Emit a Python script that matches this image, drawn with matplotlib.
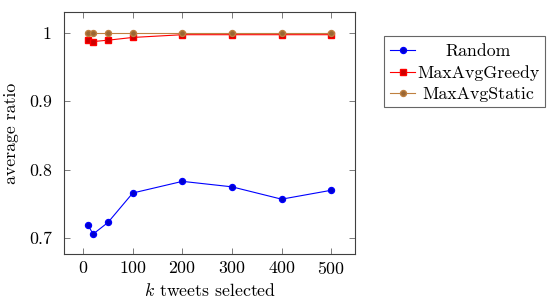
import matplotlib
matplotlib.use("Agg")
import matplotlib.pyplot as plt
from matplotlib.lines import Line2D
from matplotlib.patches import Rectangle

# data
k = [10, 20, 50, 100, 200, 300, 400, 500]
random_avg = [0.719, 0.706, 0.723, 0.766, 0.783, 0.775, 0.757, 0.770]
greedy_avg = [0.990, 0.987, 0.989, 0.993, 0.997, 0.997, 0.997, 0.997]
static_avg = [1.0, 1.0, 1.0, 1.0, 1.0, 1.0, 1.0, 1.0]
xticks = [0, 100, 200, 300, 400, 500]
yticks = [0.7, 0.8, 0.9, 1.0]
yticklabels = ["0.7", "0.8", "0.9", "1"]
names = ["Random", "MaxAvgGreedy", "MaxAvgStatic"]

plt.rcParams["font.family"] = "cmr10"
plt.rcParams["mathtext.fontset"] = "cm"
plt.rcParams["axes.formatter.use_mathtext"] = True

FS = 12.8
W, H = 549, 300

fig = plt.figure(figsize=(5.49, 3.0), dpi=100)
ax = fig.add_axes([64.3 / W, 1 - 254 / H, (355.3 - 64.3) / W, (254 - 12.3) / H])

styles = [
    dict(color=(0, 0, 1), marker="o", mfc=(0, 0, 0.8), mec=(0, 0, 1)),
    dict(color=(1, 0, 0), marker="s", mfc=(0.8, 0, 0), mec=(1, 0, 0)),
    dict(color=(0.75, 0.5, 0.25), marker="o", mfc=(0.6, 0.4, 0.2), mec=(0.75, 0.5, 0.25)),
]
for ys, st, name in zip([random_avg, greedy_avg, static_avg], styles, names):
    ax.plot(k, ys, lw=0.8, ms=4.3, label=name, **st)

ax.set_xlim(-38, 548.5)
ax.set_ylim(0.677, 1.0297)
ax.set_xticks(xticks)
ax.set_yticks(yticks)
ax.set_yticklabels(yticklabels)
ax.tick_params(direction="in", top=True, right=True, length=4, width=0.6,
               color="0.4", labelsize=FS)
ax.tick_params(axis="x", pad=4)
ax.tick_params(axis="y", pad=9)
for s in ax.spines.values():
    s.set_linewidth(0.8)
    s.set_color("0.25")

ax.set_xlabel("$k$ tweets selected", fontsize=FS)
ax.set_ylabel("average ratio", fontsize=FS)
ax.xaxis.set_label_coords(0.5, -0.115)
ax.yaxis.set_label_coords(-0.155, 0.5)

# pgfplots-style legend: handles on the left, labels centred
fig.add_artist(Rectangle((384 / W, 1 - 107 / H), (545 - 384) / W, (107 - 36) / H,
                         transform=fig.transFigure, fill=True, facecolor="white",
                         edgecolor="0.4", lw=0.8))
for i, (st, name) in enumerate(zip(styles, names)):
    y = 1 - (50 + 21.5 * i) / H
    fig.add_artist(Line2D([390 / W, 415 / W], [y, y], transform=fig.transFigure,
                          lw=0.8, color=st["color"]))
    fig.add_artist(Line2D([402.5 / W], [y], transform=fig.transFigure, ms=4.3,
                          marker=st["marker"], mfc=st["mfc"], mec=st["mec"], ls="none"))
    fig.text(478 / W, y, name, ha="center", va="center_baseline", fontsize=FS)

fig.savefig("out.png", dpi=100)
